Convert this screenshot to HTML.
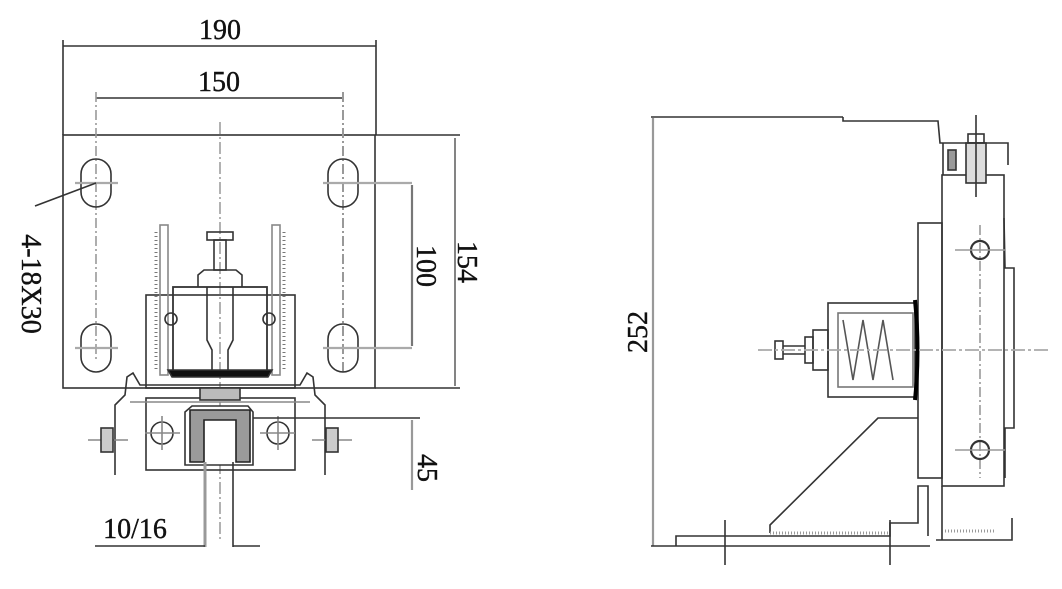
<!DOCTYPE html>
<html><head><meta charset="utf-8"><style>
html,body{margin:0;padding:0;background:#fff;width:1062px;height:589px;overflow:hidden}
svg{display:block}
text{font-family:"Liberation Serif",serif;fill:#111;stroke:#111;stroke-width:0.4}
</style></head><body>
<svg width="1062" height="589" viewBox="0 0 1062 589" xmlns="http://www.w3.org/2000/svg">
<g fill="none" stroke="#333" stroke-width="1.6">
<!-- LEFT VIEW -->
<rect x="63" y="135" width="312" height="253"/>
<line x1="63" y1="40" x2="63" y2="135"/><line x1="376" y1="40" x2="376" y2="135"/>
<line x1="63" y1="46" x2="376" y2="46"/>
<line x1="96" y1="98" x2="343" y2="98"/>
<line x1="96" y1="92" x2="96" y2="360" stroke="#999" stroke-dasharray="10,3,2,3"/>
<line x1="343" y1="92" x2="343" y2="375" stroke="#999" stroke-width="2" stroke-dasharray="10,3,2,3"/>
<line x1="220" y1="122" x2="220" y2="540" stroke="#aaa" stroke-width="1.8" stroke-dasharray="12,3,2,3"/>
<rect x="81" y="159" width="30" height="48" rx="15"/>
<rect x="81" y="324" width="30" height="48" rx="15"/>
<rect x="328" y="159" width="30" height="48" rx="15"/>
<rect x="328" y="324" width="30" height="48" rx="15"/>
<g stroke="#aaa" stroke-width="2.2"><line x1="75" y1="183" x2="118" y2="183"/><line x1="75" y1="348" x2="118" y2="348"/>
<line x1="323" y1="183" x2="412" y2="183"/><line x1="323" y1="348" x2="412" y2="348"/></g>
<line x1="412" y1="185" x2="412" y2="346" stroke="#777" stroke-width="2.2"/>
<line x1="375" y1="135" x2="460" y2="135"/><line x1="375" y1="388" x2="460" y2="388"/>
<line x1="455" y1="138" x2="455" y2="386" stroke="#777" stroke-width="1.8"/>
<line x1="96" y1="183" x2="35" y2="206"/>
<rect x="146" y="295" width="149" height="93"/>
<rect x="173" y="287" width="94" height="88" stroke-width="1.8"/>
<rect x="160" y="225" width="8" height="150" stroke="#888"/>
<rect x="272" y="225" width="8" height="150" stroke="#888"/>
<line x1="156" y1="232" x2="156" y2="370" stroke="#777" stroke-width="3" stroke-dasharray="1,3"/>
<line x1="284" y1="232" x2="284" y2="370" stroke="#777" stroke-width="3" stroke-dasharray="1,3"/>
<circle cx="171" cy="319" r="6"/><circle cx="269" cy="319" r="6"/>
<rect x="207" y="232" width="26" height="8"/>
<rect x="214" y="240" width="12" height="30"/>
<path d="M198 287 V275 L204 270 H236 L242 275 V287"/>
<path d="M207 287 V340 L212 350 V375 M233 287 V340 L228 350 V375"/>
<path d="M168 370 L172 377 H268 L272 370 Z" fill="#111"/>
<path d="M115 475 V405 L125 395 L127 377 L133 373 L140 385 L300 385 L307 373 L313 377 L315 395 L325 405 V475"/>
<rect x="146" y="398" width="149" height="72"/>
<line x1="130" y1="402" x2="310" y2="402" stroke="#888"/>
<rect x="200" y="388" width="40" height="12" fill="#bbb" stroke="#333"/>
<path d="M185 465 V412 L192 406 H248 L253 412 V465 Z" fill="#fff"/>
<path d="M190 462 V410 H250 V462 H236 V420 H204 V462 Z" fill="#9a9a9a" stroke="#222"/>
<circle cx="162" cy="433" r="11"/><circle cx="278" cy="433" r="11"/>
<g stroke="#888"><line x1="145" y1="433" x2="180" y2="433"/><line x1="162" y1="416" x2="162" y2="450"/>
<line x1="260" y1="433" x2="295" y2="433"/><line x1="278" y1="416" x2="278" y2="450"/>
<line x1="88" y1="440" x2="128" y2="440"/><line x1="312" y1="440" x2="352" y2="440"/></g>
<rect x="101" y="428" width="12" height="24" fill="#ccc"/>
<rect x="326" y="428" width="12" height="24" fill="#ccc"/>
<line x1="205" y1="462" x2="205" y2="547" stroke="#999" stroke-width="3"/>
<line x1="233" y1="462" x2="233" y2="547"/>
<line x1="253" y1="418" x2="420" y2="418"/>
<line x1="412" y1="420" x2="412" y2="490" stroke="#999" stroke-width="2.2"/>
<line x1="95" y1="546" x2="205" y2="546"/><line x1="233" y1="546" x2="260" y2="546"/>

<!-- RIGHT VIEW -->
<line x1="653" y1="118" x2="653" y2="546" stroke="#999" stroke-width="2.2"/>
<line x1="651" y1="117" x2="843" y2="117"/>
<path d="M843 117 V121 H938 L940 143 H1008 V165 M943 143 V175"/>
<line x1="651" y1="546" x2="930" y2="546"/>
<rect x="942" y="175" width="62" height="311"/>
<path d="M1004 218 L1005 268 H1014 V428 H1005 V478"/>
<rect x="918" y="223" width="24" height="255"/>
<rect x="828" y="303" width="87" height="94"/>
<rect x="838" y="313" width="75" height="74" stroke="#777"/>
<path d="M843 320 L853 380 L863 320 L873 380 L883 320 L893 380" stroke="#555"/>
<path d="M915 300 Q920 350 915 400" stroke="#000" stroke-width="4"/>
<rect x="813" y="330" width="15" height="40"/>
<rect x="805" y="337" width="8" height="26"/>
<rect x="775" y="341" width="8" height="18"/>
<line x1="783" y1="346" x2="805" y2="346"/><line x1="783" y1="354" x2="805" y2="354"/>
<line x1="758" y1="350" x2="1050" y2="350" stroke="#aaa" stroke-width="1.8" stroke-dasharray="14,3,3,3"/>
<line x1="980" y1="225" x2="980" y2="478" stroke="#999" stroke-dasharray="10,3,2,3"/>
<circle cx="980" cy="250" r="9" stroke-width="2.2"/><circle cx="980" cy="450" r="9" stroke-width="2.2"/>
<line x1="955" y1="250" x2="1005" y2="250" stroke="#999"/><line x1="955" y1="450" x2="1005" y2="450" stroke="#999"/>
<path d="M918 418 H878 L770 525 V533"/>
<path d="M676 546 V536 H890 V523 H918 V486 H928 V536"/>
<line x1="770" y1="533" x2="890" y2="533" stroke="#999" stroke-width="3" stroke-dasharray="1,2"/>
<path d="M936 540 H1012 V518 M942 486 V540"/>
<line x1="945" y1="531" x2="995" y2="531" stroke="#999" stroke-width="3" stroke-dasharray="1,2"/>
<line x1="725" y1="520" x2="725" y2="565"/><line x1="890" y1="520" x2="890" y2="565"/>
<rect x="966" y="143" width="20" height="40" fill="#ddd"/>
<rect x="968" y="134" width="16" height="9"/>
<line x1="976" y1="115" x2="976" y2="197"/>
<rect x="948" y="150" width="8" height="20" fill="#999"/>
</g>
<g font-size="28">
<text x="220" y="39" text-anchor="middle">190</text>
<text x="219" y="91" text-anchor="middle">150</text>
<text x="135" y="538" text-anchor="middle">10/16</text>
<text transform="translate(417,266) rotate(90)" text-anchor="middle">100</text>
<text transform="translate(458,262) rotate(90)" text-anchor="middle">154</text>
<text transform="translate(418,468) rotate(90)" text-anchor="middle">45</text>
<text transform="translate(22,284) rotate(90)" text-anchor="middle">4-18X30</text>
<text transform="translate(647,332) rotate(-90)" text-anchor="middle">252</text>
</g>
</svg>
</body></html>
